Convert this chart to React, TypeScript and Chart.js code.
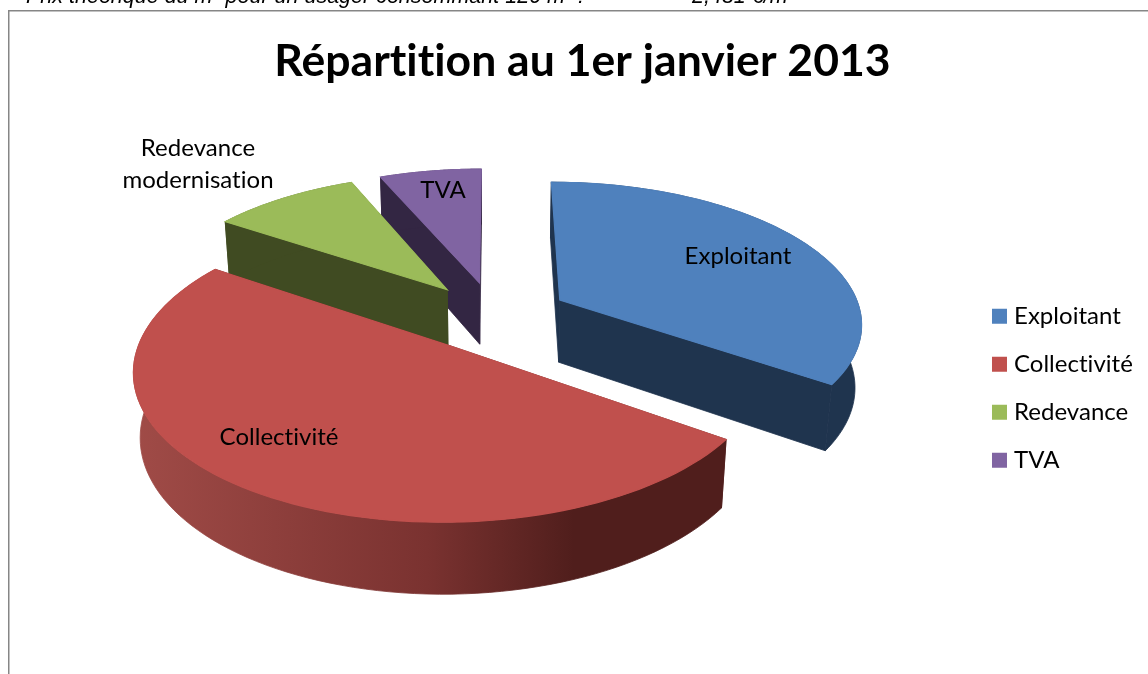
import React, { useEffect, useRef } from "react";
import { Chart, registerables } from "chart.js";

Chart.register(...registerables);

const categories = ["Exploitant", "Collectivité", "Redevance", "TVA"];
const shares = [34.7, 49.7, 9.2, 6.4];
const topColors = ["#4f81bd", "#c0504d", "#9bbb59", "#8064a2"];
const wallColors = ["#1f344e", "#501e1c", "#404b22", "#332643"];
const sliceLabels = [["Exploitant"], ["Collectivité"], ["Redevance", "modernisation"], ["TVA"]];
const labelAnchors = [[738, 256], [279, 437], [198, 164], [443, 190]];
const FONT = "Lato, Carlito, sans-serif";

const CX = 494, CY = 316, A = 302, B = 140, G = 0.15, K = 0.018, D = 64, EXPLODE = 0.25;

function project(x: number, y: number, bottom: boolean): [number, number] {
  const w = 1 - G * y + (bottom ? K : 0);
  return [CX + (A * x) / w, CY + (B * y + (bottom ? D : 0)) / w];
}

function poly(ctx: CanvasRenderingContext2D, pts: [number, number][], fill: any, seal = 0.8) {
  ctx.beginPath();
  pts.forEach((p, i) => (i ? ctx.lineTo(p[0], p[1]) : ctx.moveTo(p[0], p[1])));
  ctx.closePath();
  ctx.fillStyle = fill;
  ctx.fill();
  ctx.strokeStyle = fill;
  ctx.lineWidth = seal;
  ctx.stroke();
}

const pie3d = {
  id: "pie3d",
  beforeDraw(chart: any) {
    const { ctx } = chart;
    (ctx as any).letterSpacing = "0.02px";
    ctx.save();
    ctx.fillStyle = "#868686";
    ctx.fillRect(8, 10, 1140, 1.5);
    ctx.fillRect(8, 10, 1.5, 664);
    ctx.restore();
  },
  beforeDatasetDraw(chart: any, args: any) {
    const { ctx } = chart;
    const arcs = args.meta.data;
    const order = [3, 2, 0, 1];
    for (const i of order) {
      const { startAngle, endAngle } = arcs[i].getProps(["startAngle", "endAngle"], true);
      const mid = (startAngle + endAngle) / 2;
      const ox = EXPLODE * Math.cos(mid);
      const oy = EXPLODE * Math.sin(mid);
      const rim = (bottom: boolean) => {
        const pts: [number, number][] = [];
        const n = 90;
        for (let k = 0; k <= n; k++) {
          const a = startAngle + ((endAngle - startAngle) * k) / n;
          pts.push(project(ox + Math.cos(a), oy + Math.sin(a), bottom));
        }
        return pts;
      };
      const topRim = rim(false);
      const botRim = rim(true);
      const apexT = project(ox, oy, false);
      const apexB = project(ox, oy, true);
      let wall: any = wallColors[i];
      if (i === 1) {
        const g = ctx.createLinearGradient(135, 0, 720, 0);
        g.addColorStop(0, "#a04b47");
        g.addColorStop(0.5, "#7a3230");
        g.addColorStop(0.75, "#501e1c");
        g.addColorStop(1, "#501e1c");
        wall = g;
      }
      poly(ctx, [apexT, topRim[0], botRim[0], apexB], wallColors[i]);
      poly(ctx, [apexT, topRim[topRim.length - 1], botRim[botRim.length - 1], apexB], wallColors[i]);
      poly(ctx, [...topRim, ...botRim.slice().reverse()], wall);
      poly(ctx, [apexT, ...topRim], topColors[i], 1.2);
    }
    ctx.save();
    ctx.font = `24px ${FONT}`;
    ctx.fillStyle = "#000";
    ctx.textAlign = "center";
    ctx.textBaseline = "middle";
    sliceLabels.forEach((lines, i) => {
      lines.forEach((t, j) => {
        ctx.fillText(t, labelAnchors[i][0], labelAnchors[i][1] + (j - (lines.length - 1) / 2) * 32);
      });
    });
    ctx.restore();
    return false;
  },
};

export default function App() {
  const ref = useRef<HTMLCanvasElement>(null);
  useEffect(() => {
    const chart = new Chart(ref.current!, {
      type: "pie",
      data: {
        labels: categories,
        datasets: [{ data: shares, backgroundColor: topColors, borderWidth: 0 }],
      },
      options: {
        responsive: false,
        animation: false,
        layout: { padding: { left: 22, right: 5, bottom: 0 } },
        plugins: {
          tooltip: { enabled: false },
          title: {
            display: true,
            text: "Répartition au 1er janvier 2013",
            color: "#000",
            font: { family: FONT, size: 44.5, weight: "bold" },
            padding: { top: 35, bottom: 14 },
          },
          legend: {
            position: "right",
            fullSize: false,
            labels: {
              color: "#000",
              font: { family: FONT, size: 24 },
              boxWidth: 5,
              boxHeight: 5,
              padding: 24,
              generateLabels: () =>
                categories.map((c, i) => ({
                  text: c,
                  fillStyle: topColors[i],
                  strokeStyle: topColors[i],
                  lineWidth: 10,
                  index: i,
                  hidden: false,
                })),
            },
          },
        },
      },
      plugins: [pie3d],
    } as any);
    return () => chart.destroy();
  }, []);
  const noteStyle: React.CSSProperties = {
    position: "absolute",
    top: -16,
    font: "italic 21.5px 'Liberation Sans', Arial, sans-serif",
    color: "#000",
    whiteSpace: "nowrap",
  };
  return (
    <div style={{ position: "absolute", left: 0, top: 0, width: 1148, height: 674, overflow: "hidden", background: "#fff" }}>
      <canvas ref={ref} width={1148} height={674} style={{ position: "absolute", left: 0, top: 0 }} />
      <div style={{ ...noteStyle, left: 26 }}>Prix théorique du m³ pour un usager consommant 120 m³ :</div>
      <div style={{ ...noteStyle, left: 692 }}>2,481 €/m³</div>
    </div>
  );
}
